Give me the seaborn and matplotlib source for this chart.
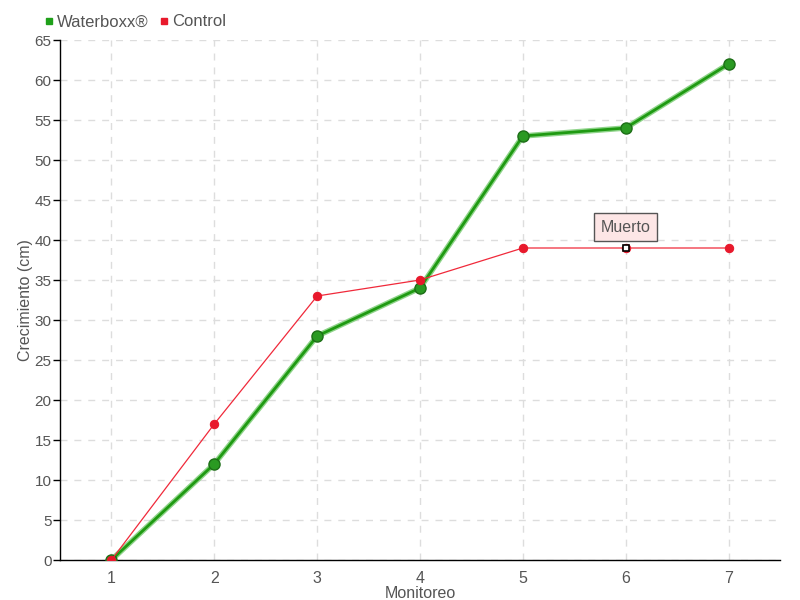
import matplotlib
matplotlib.use("Agg")
import matplotlib.pyplot as plt
import seaborn as sns
import pandas as pd
from matplotlib.lines import Line2D

monitoreo = [1, 2, 3, 4, 5, 6, 7]
waterboxx = [0, 12, 28, 34, 53, 54, 62]
control = [0, 17, 33, 35, 39, 39, 39]
muerto_idx = 5

sns.set_theme(style="white")
plt.rcParams['font.family'] = ['Liberation Sans', 'DejaVu Sans']

df = pd.DataFrame({"Monitoreo": monitoreo, "Waterboxx": waterboxx, "Control": control})
gray = "#555555"

fig = plt.figure(figsize=(8, 6), dpi=100)
ax = fig.add_axes([60/800, 40/600, 720/800, 520/600])

# green halo + line
ax.plot(df["Monitoreo"], df["Waterboxx"], color="#8fd48a", lw=4, zorder=2, solid_capstyle="round")
sns.lineplot(data=df, x="Monitoreo", y="Waterboxx", color="#1f9a12", lw=2, ax=ax, zorder=3,
             marker="o", markersize=8, markerfacecolor="#2a9a22", markeredgecolor="#1d6e17",
             markeredgewidth=1)
sns.lineplot(data=df, x="Monitoreo", y="Control", color="#f0293a", lw=0.9, ax=ax, zorder=4,
             marker="o", markersize=6, markerfacecolor="#e8192c", markeredgecolor="#e8192c")
# dead point highlight
ax.plot(monitoreo[muerto_idx], control[muerto_idx], marker="s", markersize=5,
        markerfacecolor="white", markeredgecolor="black", markeredgewidth=1.2, zorder=6)
ax.annotate("Muerto", xy=(monitoreo[muerto_idx], control[muerto_idx]),
            xytext=(0, 15), textcoords="offset points", ha="center", va="center",
            fontsize=11.5, color=gray,
            bbox=dict(boxstyle="square,pad=0.4", fc="#fde6e6", ec=gray, lw=1),
            zorder=7)

ax.set_xlim(0.5, 7.5)
ax.set_ylim(0, 65)
ax.set_yticks(range(0, 66, 5))
ax.set_xticks(monitoreo)
ax.grid(True, color="#dddddd", linestyle=(0, (5, 5)), lw=1)
for s in ["top", "right"]:
    ax.spines[s].set_visible(False)
for s in ["left", "bottom"]:
    ax.spines[s].set_color("black")
    ax.spines[s].set_linewidth(1)
ax.tick_params(axis="y", left=True, length=5, width=1, color="black", labelsize=11,
               labelcolor=gray, pad=1)
ax.tick_params(axis="x", bottom=False, labelsize=11.5, labelcolor=gray, pad=2)
ax.set_xlabel("Monitoreo", fontsize=11.5, color=gray, labelpad=0)
ax.set_ylabel("Crecimiento (cm)", fontsize=11.5, color=gray, labelpad=1)

handles = [Line2D([], [], ls="", marker="s", markersize=5, color="#1fa01a"),
           Line2D([], [], ls="", marker="s", markersize=5, color="#e8192c")]
fig.legend(handles, ["Waterboxx®", "Control"], ncol=2, loc="center left",
           bbox_to_anchor=(44/800, 1 - 22/600), frameon=False, fontsize=12,
           handlelength=0.6, handletextpad=0.2, columnspacing=0.6, labelcolor=gray,
           borderpad=0, borderaxespad=0)

fig.savefig("out.png", dpi=100)
